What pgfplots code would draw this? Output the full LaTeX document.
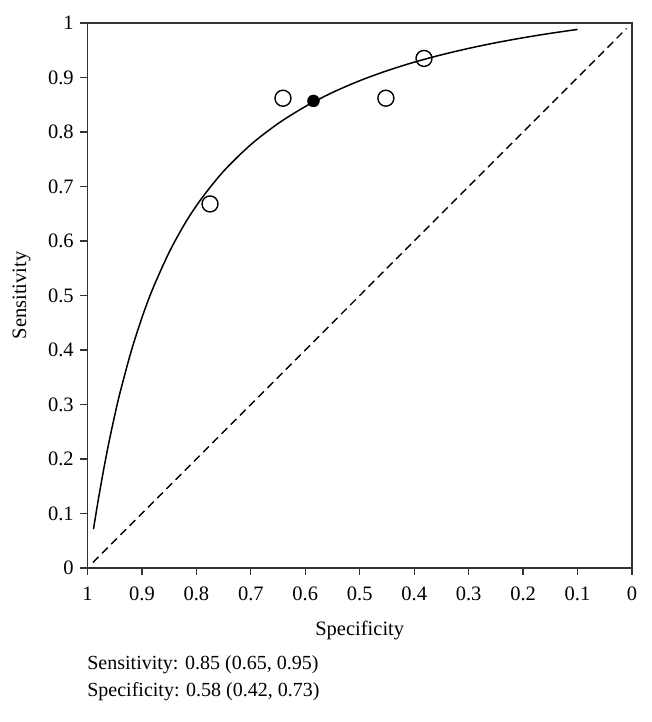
\documentclass[border=0pt]{standalone}
\usepackage{fontspec}
\setmainfont{Liberation Serif}
\usepackage{pgfplots}
\pgfplotsset{compat=1.18}
\begin{document}
\fontsize{20}{24}\selectfont
\begin{tikzpicture}[x=1pt,y=1pt]
\path[use as bounding box] (-87.5,-154) rectangle (563.5,568);
\begin{axis}[
  at={(0,0)}, anchor=south west,
  scale only axis, width=544.5pt, height=545pt,
  xmin=0, xmax=1, ymin=0, ymax=1,
  x dir=reverse,
  xtick={0,0.1,...,1.01}, ytick={0,0.1,...,1.01},
  xtick pos=bottom, ytick pos=left,
  tick align=outside, major tick length=7pt,
  axis line style={line width=1.6pt, color=black!80},
  every tick/.style={line width=1.2pt, color=black!80},
  /pgf/number format/assume math mode=true,
  ticklabel style={font=\fontsize{20.5}{24}\selectfont},
  xticklabel style={yshift=-5pt},
  xlabel={Specificity}, ylabel={Sensitivity},
  label style={font=\fontsize{20.5}{24}\selectfont},
  xlabel style={yshift=-7pt},
  ylabel style={yshift=4pt},
  clip=false,
]
\addplot[black, line width=1.5pt, smooth] coordinates {
(0.989,0.0712) (0.985,0.0962) (0.98,0.1263) (0.97,0.1824) (0.96,0.2336)
(0.95,0.2801) (0.94,0.3226) (0.92,0.3968) (0.90,0.4593) (0.88,0.5127)
(0.85,0.5793) (0.82,0.6339) (0.79,0.6787) (0.75,0.7281) (0.70,0.7769)
(0.65,0.8155) (0.60,0.8467) (0.55,0.8725) (0.50,0.8941) (0.45,0.9124)
(0.40,0.9281) (0.35,0.9416) (0.30,0.9534) (0.25,0.9638) (0.20,0.9729)
(0.15,0.9810) (0.10,0.9882)
};
\addplot[black, line width=1.4pt, dash pattern=on 8pt off 5pt] coordinates {(0.99,0.01) (0.01,0.99)};
\addplot[only marks, mark=o, mark size=8pt, mark options={line width=1.4pt, fill=white}] coordinates {
(0.775,0.668) (0.641,0.862) (0.452,0.862) (0.382,0.935)
};
\addplot[only marks, mark=*, mark size=6pt, black] coordinates {(0.585,0.857)};
\end{axis}
\node[anchor=base west, font=\fontsize{20}{24}\selectfont] at (-7,-101) {Sensitivity: 0.85 (0.65, 0.95)};
\node[anchor=base west, font=\fontsize{20}{24}\selectfont] at (-7,-128) {Specificity: 0.58 (0.42, 0.73)};
\end{tikzpicture}
\end{document}
